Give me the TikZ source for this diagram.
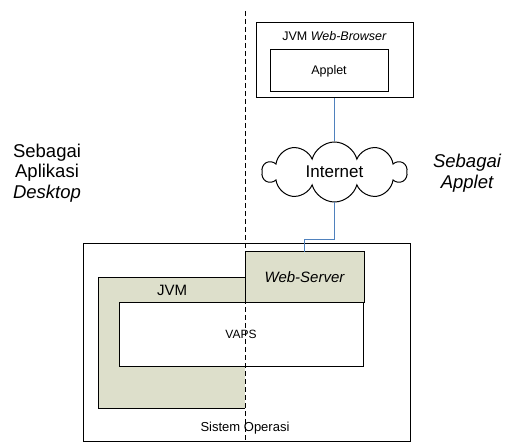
\documentclass[tikz,border=0pt]{standalone}
\usepackage{fontspec}
\setmainfont{Liberation Sans}
\usetikzlibrary{shapes.symbols}
\definecolor{jvmfill}{RGB}{221,223,203}
\definecolor{netblue}{RGB}{79,129,189}

\begin{document}
\begin{tikzpicture}[x=1pt, y=-1pt,
	box/.style={draw, line width=1pt, inner sep=0pt, outer sep=0pt},
	link/.style={draw=netblue, line width=1pt},
	sidetext/.style={align=center, font=\fontsize{18.5}{20.7}\selectfont}]

\useasboundingbox (0,0) rectangle (519,443);

% applet side
\node[box, minimum width=157pt, minimum height=75pt] (browser) at (334.5,60.5) {};
\node[font=\fontsize{12.5}{15}\selectfont] (browsertext) at (334.5,36) {JVM \textit{Web-Browser}};
\node[box, minimum width=118pt, minimum height=42pt, font=\fontsize{12.5}{15}\selectfont] (applet) at (329,71) {Applet};

\node[cloud, draw, line width=1pt, cloud puffs=10, aspect=2.5, inner sep=0pt,
	minimum width=144pt, minimum height=60pt,
	font=\fontsize{17}{20}\selectfont] (internet) at (334.5,172) {Internet};

\node[sidetext] (desktop) at (47,173) {Sebagai\\Aplikasi\\\textit{Desktop}};
\node[sidetext, font=\fontsize{18.5}{20.7}\selectfont\itshape] (applettext) at (467,173) {Sebagai\\Applet};

% desktop side
\node[box, minimum width=327pt, minimum height=197pt] (os) at (246.5,342.5) {};
\node[font=\fontsize{13}{15}\selectfont] (ostext) at (245,428) {Sistem Operasi};

\node[fill=jvmfill, inner sep=0pt, outer sep=0pt, minimum width=147pt, minimum height=130pt] (jvm) at (171.5,343) {};
\draw[line width=1pt] (jvm.north east) -- (jvm.north west) -- (jvm.south west) -- (jvm.south east);
\node[font=\fontsize{15}{18}\selectfont] (jvmtext) at (172,290) {JVM};

\node[box, fill=jvmfill, minimum width=119pt, minimum height=51pt,
	font=\fontsize{15}{18}\selectfont\itshape] (webserver) at (304.5,277.5) {Web-Server};
\node[box, fill=white, minimum width=244pt, minimum height=63pt,
	font=\fontsize{12}{14}\selectfont] (vaps) at (241,334.5) {VAPS};

% links
\draw[link] (browser.south) -- (internet.north);
\coordinate (bend) at (334.5,240);
\draw[link] (internet.south) -- (bend) -| (webserver.north);

% divider
\coordinate (divtop) at (245,11);
\coordinate (divbot) at (245,443);
\draw[line width=1pt, dash pattern=on 5pt off 3pt] (divtop) -- (divbot);

\end{tikzpicture}
\end{document}
